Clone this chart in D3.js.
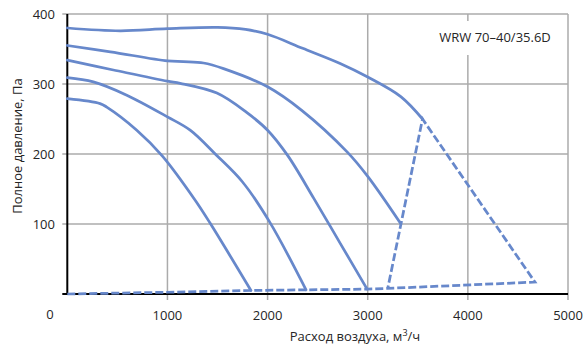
<!DOCTYPE html>
<html>
<head>
<meta charset="utf-8">
<script src="https://cdn.jsdelivr.net/npm/d3@7"></script>
<style>
  body { margin: 0; background: #fff; }
  text { font-family: "Open Sans", sans-serif; fill: #262626; }
</style>
</head>
<body>
<div id="chart"></div>
<script>
// Fan curves: [air flow m3/h, total pressure Pa]
const curve1 = [[0, 380], [527, 376], [1000, 379], [1500, 381], [1780, 378], [2000, 371], [2350, 351], [2730, 329], [3000, 310], [3330, 282], [3547, 250]];
const curve2 = [[0, 355], [430, 346], [1000, 333], [1160, 332], [1360, 330], [1560, 322], [2000, 296], [2344, 262], [2794, 203], [3000, 168], [3327, 101]];
const curve3 = [[0, 334], [460, 320], [1000, 304], [1127, 301], [1494, 287], [1794, 259], [2000, 234], [2200, 198], [2460, 137], [2727, 72], [2994, 7]];
const curve4 = [[0, 309], [260, 303], [594, 284], [1000, 253], [1227, 234], [1477, 200], [1750, 160], [2020, 103], [2384, 6]];
const curve5 = [[0, 279], [327, 272], [394, 267], [694, 234], [950, 197], [1277, 134], [1427, 101], [1834, 5]];

// Working range (dashed)
const boundary = [[0, 0], [1000, 2.5], [1834, 5], [2384, 6], [2994, 7], [3200, 8], [4670, 17], [3547, 250], [3200, 8]];

const xTicks = [1000, 2000, 3000, 4000, 5000];
const yTicks = [100, 200, 300, 400];
const xTitle = "Расход воздуха, м";
const yTitle = "Полное давление, Па";
const modelName = "WRW 70–40/35.6D";

function drawChart(selector) {
    const width = 588;
    const height = 347;
    const lineColor = "#6788cb";
    const gridColor = "#ababab";

    const svg = d3.select(selector)
        .append("svg")
        .attr("width", width)
        .attr("height", height);

    // Scales
    const x = d3.scaleLinear().domain([0, 5000]).range([67.3, 568]);
    const y = d3.scaleLinear().domain([0, 400]).range([294, 14]);

    // Grid lines
    svg.selectAll(".vgrid")
        .data(xTicks)
        .join("line")
        .attr("x1", d => x(d)).attr("x2", d => x(d))
        .attr("y1", y(400)).attr("y2", y(0) + 6)
        .style("stroke", gridColor)
        .style("stroke-width", 1.5);

    svg.selectAll(".hgrid")
        .data(yTicks)
        .join("line")
        .attr("x1", x(0) - 5).attr("x2", x(5000))
        .attr("y1", d => y(d)).attr("y2", d => y(d))
        .style("stroke", gridColor)
        .style("stroke-width", 1.5);

    // Label box for model name
    svg.append("rect")
        .attr("x", 428).attr("y", 21)
        .attr("width", 132).attr("height", 34)
        .style("fill", "#fff");

    svg.append("text")
        .attr("x", 495).attr("y", 42)
        .attr("text-anchor", "middle")
        .style("font-size", "13px")
        .text(modelName);

    // Axes lines
    svg.append("line")
        .attr("x1", x(0)).attr("x2", x(0))
        .attr("y1", y(400)).attr("y2", y(0))
        .style("stroke", "#000")
        .style("stroke-width", 2);

    svg.append("line")
        .attr("x1", x(0) - 5).attr("x2", x(5000))
        .attr("y1", y(0)).attr("y2", y(0))
        .style("stroke", "#000")
        .style("stroke-width", 2);

    // Tick labels
    svg.selectAll(".ylabel")
        .data(yTicks)
        .join("text")
        .attr("x", 55)
        .attr("y", d => y(d))
        .attr("dy", "0.35em")
        .attr("text-anchor", "end")
        .style("font-size", "13px")
        .text(d => d);

    svg.selectAll(".xlabel")
        .data(xTicks)
        .join("text")
        .attr("x", d => x(d))
        .attr("y", 315)
        .attr("dy", "0.35em")
        .attr("text-anchor", "middle")
        .style("font-size", "13px")
        .text(d => d);

    svg.append("text")
        .attr("x", 50).attr("y", 314)
        .attr("dy", "0.35em")
        .attr("text-anchor", "middle")
        .style("font-size", "13px")
        .text("0");

    // Axis titles
    const xt = svg.append("text")
        .attr("x", 355).attr("y", 336)
        .attr("dy", "0.35em")
        .attr("text-anchor", "middle")
        .style("font-size", "13px");
    xt.append("tspan").text(xTitle);
    xt.append("tspan").attr("dy", "-5").style("font-size", "9px").text("3");
    xt.append("tspan").attr("dy", "5").text("/ч");

    svg.append("text")
        .attr("transform", "translate(17,146) rotate(-90)")
        .attr("dy", "0.35em")
        .attr("text-anchor", "middle")
        .style("font-size", "13px")
        .text(yTitle);

    // Curves
    const line = d3.line()
        .x(d => x(d[0]))
        .y(d => y(d[1]))
        .curve(d3.curveCatmullRom.alpha(0.5));

    svg.append("path")
        .datum(boundary)
        .attr("d", d3.line().x(d => x(d[0])).y(d => y(d[1])))
        .style("fill", "none")
        .style("stroke", lineColor)
        .style("stroke-width", 2.75)
        .style("stroke-dasharray", "8 3");

    svg.selectAll(".curve")
        .data([curve1, curve2, curve3, curve4, curve5])
        .join("path")
        .attr("d", line)
        .style("fill", "none")
        .style("stroke", lineColor)
        .style("stroke-width", 2.75)
        .style("stroke-linecap", "round");
}

drawChart("#chart");
</script>
</body>
</html>
